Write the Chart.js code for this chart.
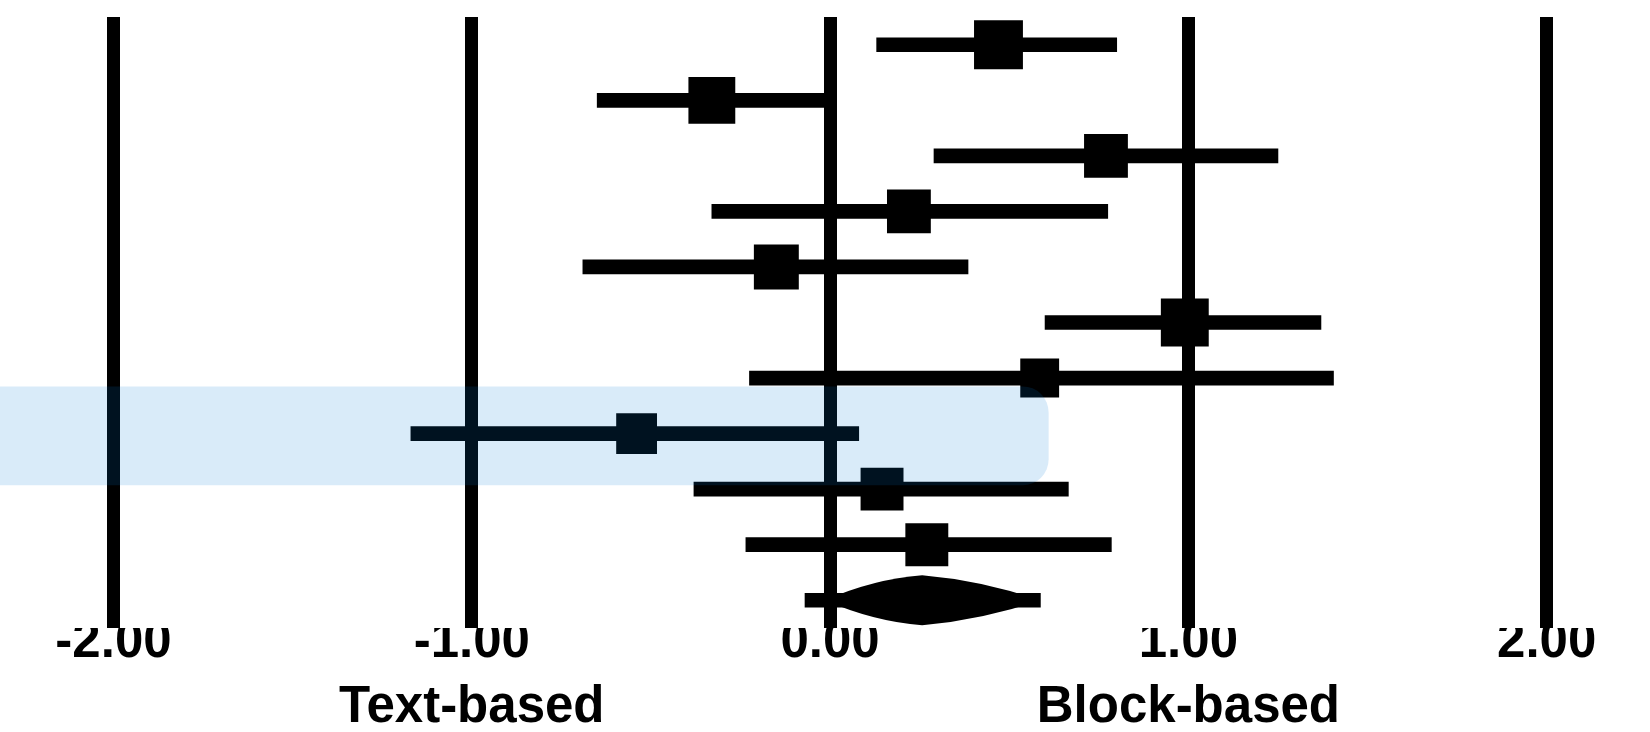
<!DOCTYPE html>
<html>
<head>
<meta charset="utf-8">
<title>Forest plot</title>
<script src="https://cdn.jsdelivr.net/npm/chart.js@4.4.1/dist/chart.umd.min.js"></script>
<style>
    html, body { margin: 0; padding: 0; background: #ffffff; }
    #wrap { width: 1650px; height: 732px; }
</style>
</head>
<body>
<div id="wrap"><canvas id="forestChart"></canvas></div>
<script>
// study rows, top to bottom, plus the pooled row at the end
const studies = ['Study 1', 'Study 2', 'Study 3', 'Study 4', 'Study 5',
    'Study 6', 'Study 7', 'Study 8', 'Study 9', 'Study 10'];
const estimates = [0.47, -0.33, 0.77, 0.22, -0.15, 0.99, 0.585, -0.54, 0.145, 0.27];
const ciLow = [0.13, -0.65, 0.29, -0.33, -0.69, 0.60, -0.225, -1.17, -0.38, -0.235];
const ciHigh = [0.80, -0.01, 1.25, 0.775, 0.385, 1.37, 1.405, 0.08, 0.665, 0.785];
const weights = [12.2, 11.2, 9.8, 9.8, 10.3, 11.7, 7.7, 8.5, 9.4, 9.4];

const pooledLabel = 'Overall';
const pooledEstimate = [0.257];
const pooledLow = [-0.07];
const pooledHigh = [0.587];

const tickValues = [-2, -1, 0, 1, 2];
const sideTicks = [-1, 1];
const sideLabels = ['Text-based', 'Block-based'];

const highlightRow = 7;
const highlightEnd = 0.61;

const rowLabels = studies.concat([pooledLabel]);
const FONT = "'Liberation Sans', Arial, sans-serif";

function fixAxis(height) {
    return function (scale) {
        scale.paddingLeft = 0;
        scale.paddingRight = 0;
        scale.height = height;
    };
}

function show_Forest() {
    var ciData = ciLow.map(function (lo, i) { return [lo, ciHigh[i]]; });
    ciData.push([pooledLow[0], pooledHigh[0]]);

    var pointData = estimates.map(function (v, i) { return { x: v, y: studies[i] }; });
    var pointRadius = weights.map(function (w) { return Math.sqrt(w) * 14 / (2 * Math.SQRT1_2); });

    const diamondPlugin = {
        id: 'pooledDiamond',
        afterDatasetsDraw(chart) {
            const x = chart.scales.x, y = chart.scales.y, ctx = chart.ctx;
            const yc = y.getPixelForValue(rowLabels.length - 1);
            const half = (y.getPixelForValue(1) - y.getPixelForValue(0)) * 0.45;
            const xl = x.getPixelForValue(pooledLow[0]) + 20;
            const xm = x.getPixelForValue(pooledEstimate[0]);
            const xr = x.getPixelForValue(pooledHigh[0]);
            ctx.save();
            ctx.fillStyle = '#000000';
            ctx.beginPath();
            ctx.moveTo(xl, yc);
            ctx.quadraticCurveTo((xl + xm) / 2, yc - half * 0.85, xm, yc - half);
            ctx.quadraticCurveTo((xm + xr) / 2, yc - half * 0.8, xr, yc);
            ctx.quadraticCurveTo((xm + xr) / 2, yc + half * 0.8, xm, yc + half);
            ctx.quadraticCurveTo((xl + xm) / 2, yc + half * 0.85, xl, yc);
            ctx.closePath();
            ctx.fill();
            ctx.restore();
        }
    };

    const highlightPlugin = {
        id: 'rowHighlight',
        afterDraw(chart) {
            const x = chart.scales.x, y = chart.scales.y, ctx = chart.ctx;
            const band = y.getPixelForValue(1) - y.getPixelForValue(0);
            const yc = y.getPixelForValue(highlightRow);
            const right = x.getPixelForValue(highlightEnd);
            ctx.save();
            ctx.fillStyle = 'rgba(0, 120, 215, 0.15)';
            ctx.beginPath();
            ctx.roundRect(0, yc - band * 0.85, right, band * 1.78, [0, 26, 26, 0]);
            ctx.fill();
            ctx.restore();
        }
    };

    const config_forest = {
        type: 'bar',
        data: {
            labels: rowLabels,
            datasets: [{
                label: 'CI',
                data: ciData,
                backgroundColor: '#000000',
                borderWidth: 0,
                barThickness: 14,
                borderSkipped: false
            }, {
                type: 'scatter',
                label: 'Estimate',
                data: pointData,
                pointStyle: 'rect',
                pointRadius: pointRadius,
                backgroundColor: '#000000',
                borderWidth: 0
            }]
        },
        options: {
            indexAxis: 'y',
            responsive: true,
            maintainAspectRatio: false,
            animation: false,
            events: [],
            layout: { autoPadding: false, padding: { top: 17, bottom: 0, left: 6, right: 3 } },
            plugins: {
                legend: { display: false },
                tooltip: { enabled: false }
            },
            scales: {
                x: {
                    type: 'linear',
                    position: 'bottom',
                    min: -2.3,
                    max: 2.28,
                    weight: 0,
                    afterBuildTicks: function (scale) {
                        scale.ticks = tickValues.map(function (v) { return { value: v }; });
                    },
                    afterFit: fixAxis(40),
                    grid: { color: '#000000', lineWidth: 13, drawTicks: false },
                    border: { display: false },
                    ticks: {
                        color: '#000000',
                        padding: -11,
                        maxRotation: 0,
                        minRotation: 0,
                        autoSkip: false,
                        font: { family: FONT, size: 51, weight: 'bold', lineHeight: 1 },
                        callback: function (v) { return v.toFixed(2); }
                    }
                },
                x2: {
                    type: 'linear',
                    position: 'bottom',
                    min: -2.3,
                    max: 2.28,
                    weight: 1,
                    afterBuildTicks: function (scale) {
                        scale.ticks = sideTicks.map(function (v) { return { value: v }; });
                    },
                    afterFit: fixAxis(64),
                    grid: { display: false, drawTicks: false },
                    border: { display: false },
                    ticks: {
                        color: '#000000',
                        padding: 14,
                        maxRotation: 0,
                        minRotation: 0,
                        autoSkip: false,
                        font: { family: FONT, size: 51, weight: 'bold', lineHeight: 1 },
                        callback: function (v) { return sideLabels[sideTicks.indexOf(v)]; }
                    }
                },
                y: {
                    type: 'category',
                    labels: rowLabels,
                    offset: true,
                    display: false
                }
            }
        },
        plugins: [diamondPlugin, highlightPlugin]
    };

    var myChart = new Chart(
        document.getElementById('forestChart'),
        config_forest
    );
}

show_Forest();
</script>
</body>
</html>
